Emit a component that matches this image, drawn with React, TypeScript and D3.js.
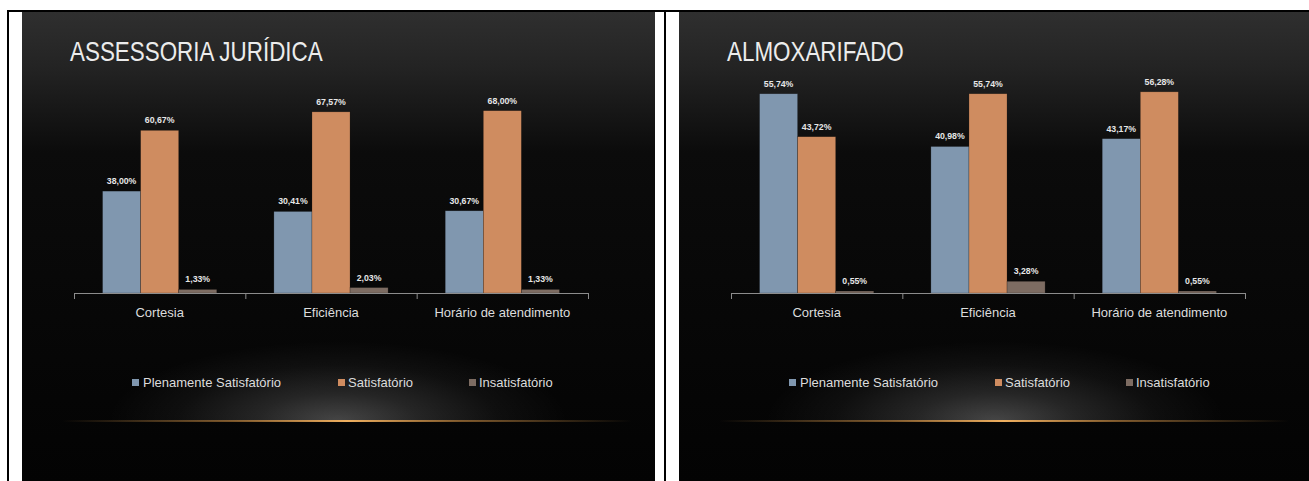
import React from "react";
import * as d3 from "d3";

const categories = ["Cortesia", "Eficiência", "Horário de atendimento"];
const seriesNames = ["Plenamente Satisfatório", "Satisfatório", "Insatisfatório"];
const seriesColors = ["#8097af", "#cf8c60", "#7d6c62"];

const juridicaTitle = "ASSESSORIA JURÍDICA";
const juridicaPlenamente = [38.0, 30.41, 30.67];
const juridicaSatisfatorio = [60.67, 67.57, 68.0];
const juridicaInsatisfatorio = [1.33, 2.03, 1.33];
const juridicaYMax = 80;

const almoxTitle = "ALMOXARIFADO";
const almoxPlenamente = [55.74, 40.98, 43.17];
const almoxSatisfatorio = [43.72, 55.74, 56.28];
const almoxInsatisfatorio = [0.55, 3.28, 0.55];
const almoxYMax = 60;

const W = 1309;
const H = 481;
const PANEL_W = 633;
const PANEL_TOP = 12;

const fmt = (v: number) => d3.format(".2f")(v).replace(".", ",") + "%";

type PanelProps = {
  id: string;
  x0: number;
  title: string;
  series: number[][];
  yMax: number;
};

function Panel({ id, x0, title, series, yMax }: PanelProps) {
  const plotLeft = 52;
  const plotRight = 566;
  const axisY = 293;
  const plotTop = 78.5;

  const x = d3.scaleBand<string>().domain(categories).range([plotLeft, plotRight]).paddingInner(0).paddingOuter(0);
  const bw = x.bandwidth();
  const pad = bw / 6;
  const xs = d3.scaleBand<string>().domain(seriesNames).range([pad, bw - pad]).paddingInner(0);
  const y = d3.scaleLinear().domain([0, yMax]).range([axisY, plotTop]);

  const ticks = [...categories.map((c) => x(c) as number), plotRight];

  const legendPos = [
    { mx: 110, tx: 121 },
    { mx: 316, tx: 326 },
    { mx: 447, tx: 457 },
  ];

  return (
    <g transform={`translate(${x0},0)`}>
      <defs>
        <linearGradient id={`bg-${id}`} x1="0" y1="0" x2="0" y2="1">
          <stop offset="0" stopColor="#2f2f2f" />
          <stop offset="0.12" stopColor="#232323" />
          <stop offset="0.3" stopColor="#0b0b0b" />
          <stop offset="1" stopColor="#030303" />
        </linearGradient>
        <radialGradient id={`glow-${id}`} cx="0.5" cy="0.5" r="0.5">
          <stop offset="0" stopColor="#ffffff" stopOpacity="0.26" />
          <stop offset="0.35" stopColor="#ffffff" stopOpacity="0.13" />
          <stop offset="0.7" stopColor="#ffffff" stopOpacity="0.04" />
          <stop offset="1" stopColor="#ffffff" stopOpacity="0" />
        </radialGradient>
        <linearGradient id={`line-${id}`} x1="0" y1="0" x2="1" y2="0">
          <stop offset="0" stopColor="#e0a050" stopOpacity="0" />
          <stop offset="0.3" stopColor="#c88a40" stopOpacity="0.6" />
          <stop offset="0.5" stopColor="#f0b060" stopOpacity="1" />
          <stop offset="0.7" stopColor="#c88a40" stopOpacity="0.6" />
          <stop offset="1" stopColor="#e0a050" stopOpacity="0" />
        </linearGradient>
        <clipPath id={`glowclip-${id}`}>
          <rect x={0} y={300} width={PANEL_W} height={121} />
        </clipPath>
      </defs>
      <rect x={0} y={PANEL_TOP} width={PANEL_W} height={H - PANEL_TOP} fill={`url(#bg-${id})`} />
      <g clipPath={`url(#glowclip-${id})`}>
        <ellipse cx={316} cy={421} rx={230} ry={80} fill={`url(#glow-${id})`} />
      </g>
      <rect x={40} y={420} width={570} height={2} fill={`url(#line-${id})`} />

      <text
        transform={`translate(48,61) scale(0.83,1)`}
        fontFamily="Liberation Sans, Arial, sans-serif"
        fontSize={27}
        fill="#ececec"
      >
        {title}
      </text>

      {series.map((vals, si) =>
        categories.map((c, ci) => {
          const v = vals[ci];
          const bx = (x(c) as number) + (xs(seriesNames[si]) as number);
          const by = y(v);
          return (
            <g key={`${si}-${ci}`}>
              <rect
                x={bx}
                y={by}
                width={xs.bandwidth()}
                height={axisY - by}
                fill={seriesColors[si]}
                stroke="rgba(0,0,0,0.35)"
                strokeWidth={0.6}
              />
              <text
                transform={`translate(${bx + xs.bandwidth() / 2},${by - 7}) scale(0.92,1)`}
                textAnchor="middle"
                fontFamily="Liberation Sans, Arial, sans-serif"
                fontSize={9.5}
                fontWeight="bold"
                fill="#e6e6e6"
              >
                {fmt(v)}
              </text>
            </g>
          );
        })
      )}

      <line x1={plotLeft} x2={plotRight} y1={axisY + 0.5} y2={axisY + 0.5} stroke="#8c8c8c" strokeWidth={1} />
      {ticks.map((t, i) => (
        <line key={i} x1={t + 0.5} x2={t + 0.5} y1={axisY} y2={axisY + 6} stroke="#8c8c8c" strokeWidth={1} />
      ))}
      {categories.map((c) => (
        <text
          key={c}
          x={(x(c) as number) + bw / 2}
          y={317}
          textAnchor="middle"
          fontFamily="Liberation Sans, Arial, sans-serif"
          fontSize={13}
          fill="#dcdcdc"
        >
          {c}
        </text>
      ))}

      {seriesNames.map((s, i) => (
        <g key={s}>
          <rect x={legendPos[i].mx} y={379} width={7} height={7} fill={seriesColors[i]} />
          <text
            x={legendPos[i].tx}
            y={387}
            fontFamily="Liberation Sans, Arial, sans-serif"
            fontSize={13}
            fill="#dcdcdc"
          >
            {s}
          </text>
        </g>
      ))}
    </g>
  );
}

export default function App() {
  return (
    <svg
      width={W}
      height={H}
      style={{ position: "absolute", left: 0, top: 0, display: "block" }}
    >
      <rect x={0} y={0} width={W} height={H} fill="#ffffff" />
      <Panel
        id="jur"
        x0={22}
        title={juridicaTitle}
        series={[juridicaPlenamente, juridicaSatisfatorio, juridicaInsatisfatorio]}
        yMax={juridicaYMax}
      />
      <Panel
        id="alm"
        x0={679}
        title={almoxTitle}
        series={[almoxPlenamente, almoxSatisfatorio, almoxInsatisfatorio]}
        yMax={almoxYMax}
      />
      <rect x={7} y={10} width={W - 7} height={2} fill="#000" />
      <rect x={7} y={10} width={2} height={H - 10} fill="#000" />
      <rect x={664} y={10} width={2} height={H - 10} fill="#000" />
    </svg>
  );
}
